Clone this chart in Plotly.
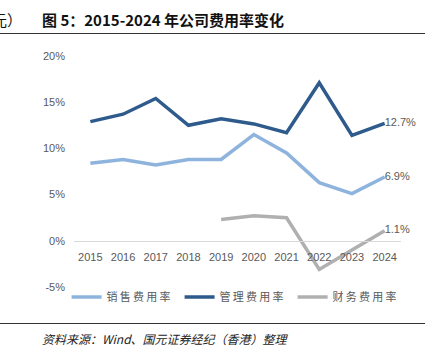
import plotly.graph_objects as go

years = ["2015", "2016", "2017", "2018", "2019", "2020", "2021", "2022", "2023", "2024"]
sales_rate = [8.4, 8.8, 8.2, 8.8, 8.8, 11.5, 9.5, 6.3, 5.1, 6.9]
admin_rate = [12.9, 13.7, 15.4, 12.5, 13.2, 12.65, 11.7, 17.1, 11.4, 12.7]
finance_rate = [None, None, None, None, 2.3, 2.7, 2.5, -3.1, -1.0, 1.1]
series_names = ["销售费用率", "管理费用率", "财务费用率"]
y_ticks = [-5, 0, 5, 10, 15, 20]
y_tick_labels = ["-5%", "0%", "5%", "10%", "15%", "20%"]

W, H = 436, 353
L, R, T, B = 74.4, 35, 56, 66
pw, ph = W - L - R, H - T - B

def px(x):
    return (x - L) / pw

def py(y):
    return (H - B - y) / ph

colors = ["#8EB4DD", "#2E5A8C", "#B0B0B0"]
label_font = dict(family="Liberation Sans, Arial, sans-serif", size=11, color="#595959")

def spaced(s):
    return "\u2009".join(list(s))

fig = go.Figure()
for name, vals, col in zip(series_names, [sales_rate, admin_rate, finance_rate], colors):
    texts = [""] * (len(vals) - 1) + [f"{vals[-1]:.1f}%"]
    fig.add_trace(go.Scatter(
        x=years, y=vals, name=spaced(name), mode="lines+text",
        line=dict(color=col, width=3.5),
        text=texts, textposition="middle right",
        textfont=label_font,
        connectgaps=False, cliponaxis=False,
    ))

fig.update_layout(
    width=W, height=H,
    margin=dict(l=L, r=R, t=T, b=B),
    paper_bgcolor="white", plot_bgcolor="white",
    showlegend=True,
    legend=dict(
        orientation="h", x=px(67), y=py(297), xanchor="left", yanchor="middle",
        font=dict(family="Noto Sans CJK SC", size=11, color="#595959"),
        entrywidth=68, entrywidthmode="pixels",
        bgcolor="rgba(0,0,0,0)",
    ),
    xaxis=dict(
        type="category", range=[-0.5, 9.5],
        anchor="free", position=0.2,
        showgrid=False, zeroline=False,
        showline=True, linecolor="#D9D9D9", linewidth=1,
        ticks="", tickfont=label_font, ticklabelstandoff=6,
    ),
    yaxis=dict(
        range=[-5, 20], tickvals=y_ticks, ticktext=y_tick_labels,
        showgrid=False, zeroline=False, showline=False,
        ticks="", tickfont=label_font, ticklabelstandoff=8,
    ),
    font=dict(family="Noto Sans CJK SC"),
)

fig.add_annotation(
    text="<b>图 5：2015-2024 年公司费用率变化</b>",
    xref="paper", yref="paper", x=px(40), y=py(20),
    xanchor="left", yanchor="middle", showarrow=False,
    font=dict(family="Noto Sans CJK SC", size=15, color="#111111"),
)
fig.add_annotation(
    text="元）",
    xref="paper", yref="paper", x=px(24), y=py(20),
    xanchor="right", yanchor="middle", showarrow=False,
    font=dict(family="Noto Sans CJK SC", size=15, color="#111111"),
)
fig.add_annotation(
    text="<i>资料来源：Wind、国元证券经纪（香港）整理</i>",
    xref="paper", yref="paper", x=px(40), y=py(338),
    xanchor="left", yanchor="middle", showarrow=False,
    font=dict(family="Noto Sans CJK SC", size=12, color="#222222"),
)
for yy in [33.5, 323.5]:
    fig.add_shape(type="line", xref="paper", yref="paper",
                  x0=px(0), x1=px(425), y0=py(yy), y1=py(yy),
                  line=dict(color="#333333", width=1.2))

fig.write_html("out.html")
